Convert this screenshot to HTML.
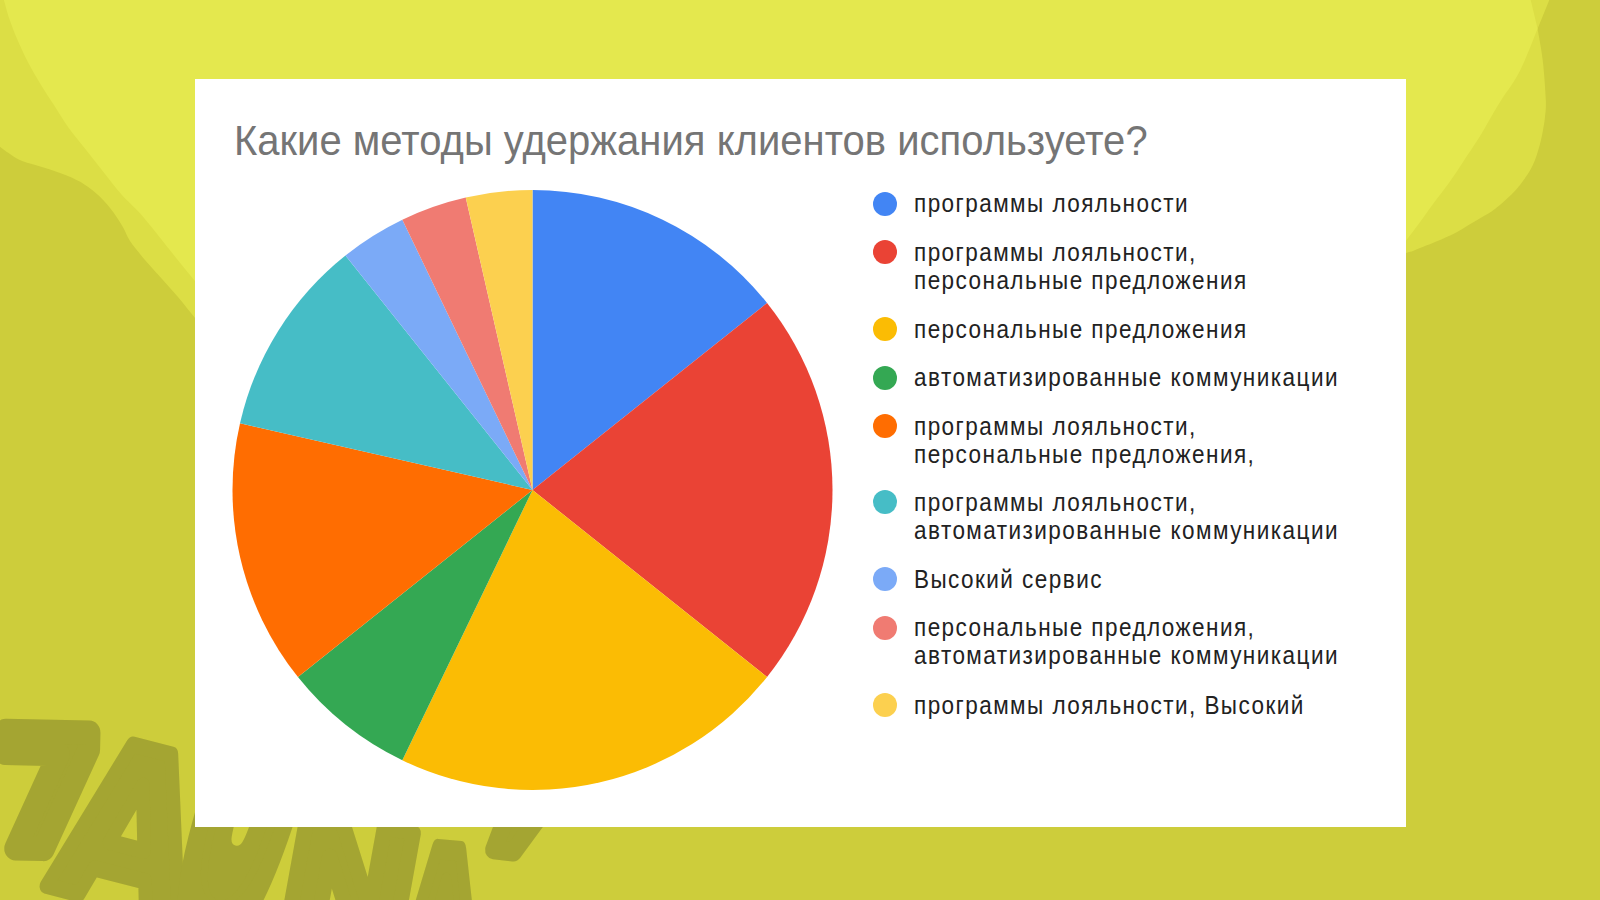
<!DOCTYPE html>
<html lang="ru">
<head>
<meta charset="utf-8">
<title>Какие методы удержания клиентов используете?</title>
<style>
html,body{margin:0;padding:0;}
body{width:1600px;height:900px;overflow:hidden;position:relative;background:#CDCD3B;font-family:"Liberation Sans","DejaVu Sans",sans-serif;}
#bg{position:absolute;left:0;top:0;width:1600px;height:900px;}
#logo{position:absolute;left:0;top:0;width:1600px;height:900px;overflow:hidden;}
.card{position:absolute;left:195px;top:79px;width:1211px;height:748px;background:#fff;}
.title{position:absolute;left:39px;top:37.3px;font-size:43px;line-height:48px;letter-spacing:0.02px;color:#757575;white-space:nowrap;transform:scaleX(0.93);transform-origin:0 0;}
#pie{position:absolute;left:0;top:0;}
.legend{position:absolute;left:0;top:0;}
.li{position:absolute;left:718.6px;font-size:25px;line-height:28px;color:#222;white-space:nowrap;}
.t{display:inline-block;transform:scaleX(0.9);transform-origin:0 0;letter-spacing:1.62px;}
.dot{position:absolute;left:-40.6px;top:2.26px;width:24px;height:24px;border-radius:50%;}
</style>
</head>
<body>
<svg id="bg" width="1600" height="900" viewBox="0 0 1600 900">
  <rect width="1600" height="900" fill="#CDCD3B"/>
  <path d="M0 0L1549.3 0L1537.6 28.7C1538.4 33.9 1541.3 48.1 1542.7 60.0C1544.1 71.9 1545.4 90.4 1545.8 100.0C1546.2 109.6 1545.4 112.8 1544.9 117.8C1544.4 122.8 1543.7 126.3 1543.0 130.0C1542.3 133.7 1541.8 136.7 1541.0 140.0C1540.2 143.3 1539.3 146.7 1538.3 150.0C1537.3 153.3 1536.3 156.7 1535.0 160.0C1533.7 163.3 1532.2 166.7 1530.3 170.0C1528.4 173.3 1526.0 176.8 1523.7 180.0C1521.4 183.2 1519.7 185.6 1516.7 188.9C1513.7 192.2 1508.8 196.9 1505.5 200.0C1502.2 203.1 1499.3 205.5 1496.7 207.6C1494.1 209.7 1493.0 210.6 1490.0 212.5C1487.0 214.4 1482.6 216.7 1478.9 218.9C1475.2 221.1 1471.5 223.4 1467.8 225.6C1464.1 227.8 1460.5 230.2 1456.7 232.2C1452.9 234.2 1448.6 236.2 1445.0 237.8C1441.4 239.5 1438.6 240.6 1435.0 242.1C1431.4 243.6 1426.9 245.4 1423.3 246.8C1419.7 248.2 1416.4 249.7 1413.6 250.7C1410.8 251.7 1409.3 251.9 1406.2 253.0C1403.1 254.1 1396.9 256.3 1395.0 257.0L1000 700L210 336L210 336C207.5 333.0 200.3 324.4 194.9 317.8C189.5 311.2 183.6 303.6 177.8 296.7C172.0 289.8 165.9 283.4 160.0 276.7C154.1 270.0 147.2 262.6 142.2 256.7C137.2 250.8 133.2 245.9 130.0 241.1C126.8 236.3 126.1 232.6 123.3 227.8C120.5 223.0 117.2 217.4 113.3 212.2C109.4 207.0 104.8 201.3 100.0 196.7C95.2 192.1 90.0 187.9 84.4 184.4C78.9 180.9 73.4 178.4 66.7 175.6C60.0 172.8 51.8 170.2 44.4 167.8C37.0 165.4 28.1 163.5 22.2 161.1C16.3 158.7 12.6 155.7 8.9 153.3C5.2 150.9 1.5 147.8 0.0 146.7Z" fill="#DCDE45"/>
  <path d="M3.9 0L1530.7 0L1537.6 28.7C1534.7 35.7 1526.0 58.8 1520.0 70.7C1514.0 82.6 1506.2 92.2 1501.3 100.0C1496.4 107.8 1494.5 111.3 1490.7 117.8C1486.9 124.3 1482.7 132.0 1478.2 139.1C1473.8 146.2 1468.7 153.3 1464.0 160.4C1459.3 167.5 1454.8 174.7 1449.8 181.8C1444.8 188.9 1438.8 196.3 1433.8 203.1C1428.8 209.9 1424.2 216.5 1419.6 222.7C1415.0 228.9 1410.3 235.0 1406.2 240.4C1402.1 245.8 1396.9 252.6 1395.0 255.0L800 600L210 300C207.5 296.9 199.5 286.8 194.9 281.1C190.3 275.4 187.3 271.9 182.2 265.6C177.1 259.3 171.4 252.0 164.4 243.3C157.4 234.6 147.2 221.5 140.0 213.3C132.8 205.2 127.5 201.2 121.5 194.4C115.5 187.6 109.6 179.8 103.8 172.5C98.0 165.2 92.4 158.0 86.5 150.5C80.6 143.0 73.8 134.9 68.4 127.5C63.1 120.0 59.1 113.0 54.4 105.8C49.7 98.5 44.8 91.3 40.4 84.0C36.0 76.7 31.9 69.7 28.0 62.2C24.1 54.7 20.2 46.1 17.1 38.9C14.0 31.6 11.5 25.2 9.3 18.7C7.1 12.2 4.8 3.1 3.9 0.0Z" fill="#E4E84E"/>
</svg>
<svg id="logo" width="1600" height="900" viewBox="0 0 1600 900">
  <g font-family="DejaVu Sans" font-weight="bold" font-size="200" fill="#A4A532" stroke="#A4A532" stroke-linejoin="round">
  <text transform="translate(-7.0 848.0) rotate(1.25) scale(0.7590 0.8060)" stroke-width="29.8">7</text>
  <text transform="translate(45.5 885.5) rotate(14.50) scale(0.8925 1.0850)" stroke-width="15.0">A</text>
  <text transform="translate(160.0 909.0) rotate(17.75) scale(0.6450 2.2050)" stroke-width="26.0">U</text>
  <text transform="translate(271.5 930.0) rotate(10.25) scale(0.8200 0.8280)" stroke-width="18.8">N</text>
  <text transform="translate(396.0 984.5) rotate(5.25) scale(0.5225 0.9510)" stroke-width="21.5">A</text>
  <text transform="translate(472.5 936.0) rotate(6.25) scale(0.9465 1.0550)" stroke-width="18.5">’</text>
  </g>
</svg>
<div class="card">
  <div class="title">Какие методы удержания клиентов используете?</div>
  <svg id="pie" width="1211" height="748" viewBox="195 79 1211 748">
    <g>
    <path d="M532.5 490L532.50 190.00A300 300 0 0 1 767.05 302.95Z" fill="#4285F4"/>
    <path d="M532.5 490L767.05 302.95A300 300 0 0 1 767.05 677.05Z" fill="#EA4335"/>
    <path d="M532.5 490L767.05 677.05A300 300 0 0 1 402.33 760.29Z" fill="#FBBC04"/>
    <path d="M532.5 490L402.33 760.29A300 300 0 0 1 297.95 677.05Z" fill="#34A853"/>
    <path d="M532.5 490L297.95 677.05A300 300 0 0 1 240.02 423.24Z" fill="#FF6D01"/>
    <path d="M532.5 490L240.02 423.24A300 300 0 0 1 345.45 255.45Z" fill="#46BDC6"/>
    <path d="M532.5 490L345.45 255.45A300 300 0 0 1 402.33 219.71Z" fill="#7BAAF7"/>
    <path d="M532.5 490L402.33 219.71A300 300 0 0 1 465.74 197.52Z" fill="#F07B72"/>
    <path d="M532.5 490L465.74 197.52A300 300 0 0 1 532.50 190.00Z" fill="#FCD04F"/>
    </g>
  </svg>
  <div class="legend">
    <div class="li" style="top:110.44px"><span class="dot" style="background:#4285F4"></span><span class="t">программы лояльности</span></div>
    <div class="li" style="top:158.94px"><span class="dot" style="background:#EA4335"></span><span class="t">программы лояльности,<br>персональные предложения</span></div>
    <div class="li" style="top:235.54px"><span class="dot" style="background:#FBBC04"></span><span class="t">персональные предложения</span></div>
    <div class="li" style="top:284.34px"><span class="dot" style="background:#34A853"></span><span class="t">автоматизированные коммуникации</span></div>
    <div class="li" style="top:332.84px"><span class="dot" style="background:#FF6D01"></span><span class="t">программы лояльности,<br>персональные предложения,</span></div>
    <div class="li" style="top:409.14px"><span class="dot" style="background:#46BDC6"></span><span class="t">программы лояльности,<br>автоматизированные коммуникации</span></div>
    <div class="li" style="top:486.14px"><span class="dot" style="background:#7BAAF7"></span><span class="t">Высокий сервис</span></div>
    <div class="li" style="top:534.44px"><span class="dot" style="background:#F07B72"></span><span class="t">персональные предложения,<br>автоматизированные коммуникации</span></div>
    <div class="li" style="top:611.54px"><span class="dot" style="background:#FCD04F"></span><span class="t">программы лояльности, Высокий</span></div>
  </div>
</div>
</body>
</html>
